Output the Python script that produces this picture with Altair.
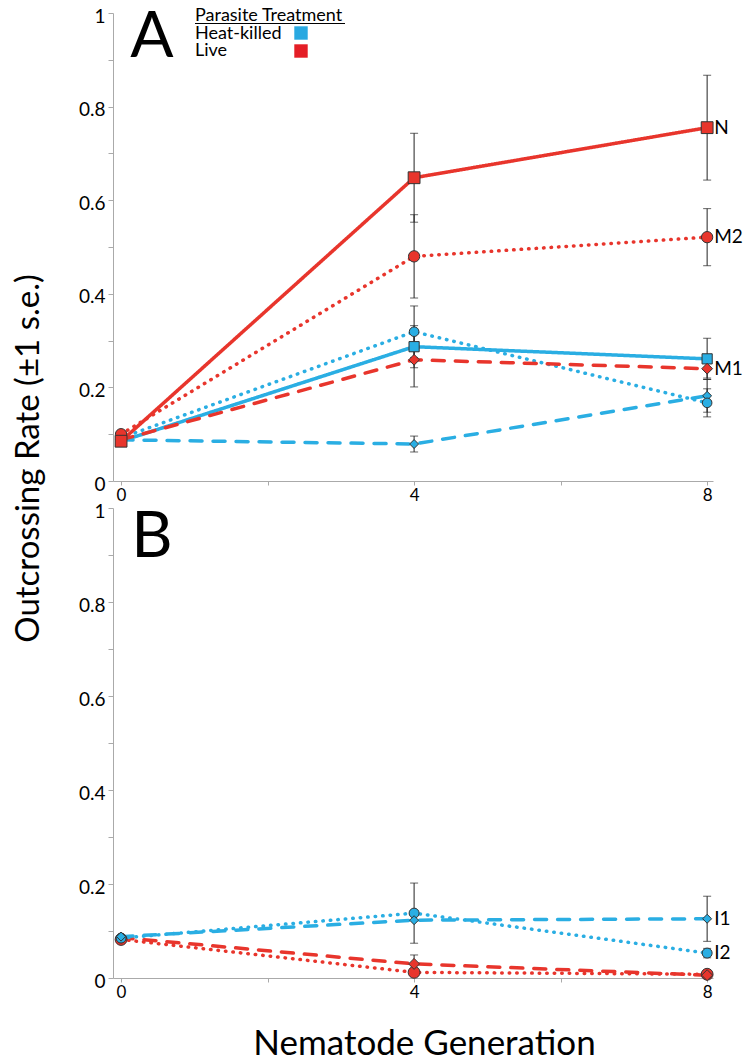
import altair as alt
import pandas as pd

FONT = "Lato"
RED = "#E8352C"
BLUE = "#2AAEE3"

GEN = [0, 4, 8]

# ---- Panel A (rate, +-1 s.e.) ----
A_live_solid = [0.085, 0.648, 0.755]
A_live_solid_se = [0.0, 0.095, 0.112]
A_live_dotted = [0.100, 0.480, 0.521]
A_live_dotted_se = [0.0, 0.089, 0.061]
A_live_dashed = [0.088, 0.259, 0.240]
A_live_dashed_se = [0.0, 0.058, 0.020]
A_hk_solid = [0.085, 0.287, 0.261]
A_hk_solid_se = [0.0, 0.045, 0.044]
A_hk_dotted = [0.092, 0.319, 0.167]
A_hk_dotted_se = [0.0, 0.055, 0.030]
A_hk_dashed = [0.088, 0.079, 0.182]
A_hk_dashed_se = [0.0, 0.017, 0.035]

# ---- Panel B ----
B_hk_dashed = [0.088, 0.123, 0.126]
B_hk_dashed_se = [0.0, 0.0, 0.048]
B_hk_dotted = [0.085, 0.138, 0.053]
B_hk_dotted_se = [0.0, 0.064, 0.010]
B_live_dashed = [0.086, 0.030, 0.006]
B_live_dashed_se = [0.0, 0.019, 0.005]
B_live_dotted = [0.082, 0.012, 0.008]
B_live_dotted_se = [0.0, 0.008, 0.005]

SERIES = {
    "A": [
        ("A_hk_dashed", A_hk_dashed, A_hk_dashed_se),
        ("A_hk_dotted", A_hk_dotted, A_hk_dotted_se),
        ("A_hk_solid", A_hk_solid, A_hk_solid_se),
        ("A_live_dashed", A_live_dashed, A_live_dashed_se),
        ("A_live_dotted", A_live_dotted, A_live_dotted_se),
        ("A_live_solid", A_live_solid, A_live_solid_se),
    ],
    "B": [
        ("B_live_dotted", B_live_dotted, B_live_dotted_se),
        ("B_live_dashed", B_live_dashed, B_live_dashed_se),
        ("B_hk_dotted", B_hk_dotted, B_hk_dotted_se),
        ("B_hk_dashed", B_hk_dashed, B_hk_dashed_se),
    ],
}

END_LABELS = {
    "A": [("A_live_solid", "N"), ("A_live_dotted", "M2"), ("A_live_dashed", "M1")],
    "B": [("B_hk_dashed", "I1"), ("B_hk_dotted", "I2")],
}


def style(name):
    color = RED if "live" in name else BLUE
    if name.endswith("solid"):
        dash, shape, size = [1, 0], "square", 150
    elif name.endswith("dotted"):
        dash, shape, size = [0.5, 7], "circle", 140
    else:
        dash, shape, size = [12, 11], "diamond", 80
    return color, dash, shape, size


def build_df(panel):
    rows = []
    for name, vals, ses in SERIES[panel]:
        for g, v, s in zip(GEN, vals, ses):
            rows.append({"series": name, "gen": g, "rate": v, "se": s,
                         "lo": v - s, "hi": v + s})
    return pd.DataFrame(rows)


def make_panel(panel, letter, letter_y, show_ytitle, show_xtitle):
    df = build_df(panel)
    names = [s[0] for s in SERIES[panel]]
    sty = [style(n) for n in names]
    cscale = alt.Scale(domain=names, range=[s[0] for s in sty])
    dscale = alt.Scale(domain=names, range=[s[1] for s in sty])
    shscale = alt.Scale(domain=names, range=[s[2] for s in sty])
    szscale = alt.Scale(domain=names, range=[s[3] for s in sty])

    xscale = alt.Scale(domain=[-0.11, 8.08], nice=False, zero=False)
    yscale = alt.Scale(domain=[0, 1], nice=False)

    xaxis_kw = dict(
        values=[0, 2, 4, 6, 8],
        format="d",
        labelExpr="datum.value % 4 == 0 ? datum.label : ''",
        tickSize=4, tickColor="#aaaaaa", domainColor="#aaaaaa",
        labelFontSize=17, labelFont=FONT, labelColor="black",
        labelPadding=2, grid=False,
    )
    if show_xtitle:
        xaxis = alt.Axis(title="Nematode Generation", titleFontSize=35,
                         titleFont=FONT, titleFontWeight="normal",
                         titleColor="black", titleX=311, titleY=76,
                         titleBaseline="alphabetic", **xaxis_kw)
    else:
        xaxis = alt.Axis(title=None, **xaxis_kw)

    yaxis_kw = dict(
        values=[i / 10 for i in range(11)],
        format=".1~f",
        labelExpr="(round(datum.value * 10) % 2 == 0) ? datum.label : ''",
        tickSize=5, tickColor="#aaaaaa", domainColor="#aaaaaa",
        labelFontSize=19, labelFont=FONT, labelColor="black",
        labelPadding=3, labelOffset=3, grid=False,
    )
    if show_ytitle:
        yaxis = alt.Axis(title="Outcrossing Rate (±1 s.e.)", titleFontSize=33,
                         titleFont=FONT, titleFontWeight="normal",
                         titleColor="black", titleX=-85, titleY=445,
                         titleAngle=270, titleBaseline="middle",
                         titleAlign="center", **yaxis_kw)
    else:
        yaxis = alt.Axis(title=None, **yaxis_kw)

    base = alt.Chart(df).encode(
        x=alt.X("gen:Q", scale=xscale, axis=xaxis),
        y=alt.Y("rate:Q", scale=yscale, axis=yaxis),
    )

    lines = base.mark_line(strokeWidth=3.5, strokeCap="round").encode(
        color=alt.Color("series:N", scale=cscale, legend=None),
        strokeDash=alt.StrokeDash("series:N", scale=dscale, legend=None),
        detail="series:N",
    )

    edf = df[df["se"] > 0]
    err = alt.Chart(edf).mark_rule(color="#222222", strokeWidth=1).encode(
        x=alt.X("gen:Q", scale=xscale), y=alt.Y("lo:Q", scale=yscale), y2="hi:Q"
    )
    cap_lo = alt.Chart(edf).mark_tick(color="#222222", thickness=1, size=8,
                                      orient="horizontal").encode(
        x=alt.X("gen:Q", scale=xscale), y=alt.Y("lo:Q", scale=yscale)
    )
    cap_hi = alt.Chart(edf).mark_tick(color="#222222", thickness=1, size=8,
                                      orient="horizontal").encode(
        x=alt.X("gen:Q", scale=xscale), y=alt.Y("hi:Q", scale=yscale)
    )

    points = base.mark_point(filled=True, stroke="#333333", strokeWidth=1,
                             opacity=1).encode(
        fill=alt.Fill("series:N", scale=cscale, legend=None),
        shape=alt.Shape("series:N", scale=shscale, legend=None),
        size=alt.Size("series:N", scale=szscale, legend=None),
    )

    lab_rows = []
    lookup = dict((s[0], s[1]) for s in SERIES[panel])
    for name, txt in END_LABELS[panel]:
        lab_rows.append({"gen": GEN[-1], "rate": lookup[name][-1], "txt": txt})
    labels = alt.Chart(pd.DataFrame(lab_rows)).mark_text(
        align="left", baseline="middle", dx=7, fontSize=19, font=FONT,
        color="black"
    ).encode(x=alt.X("gen:Q", scale=xscale), y=alt.Y("rate:Q", scale=yscale),
             text="txt:N")

    letter_mark = alt.Chart(pd.DataFrame({"t": [letter]})).mark_text(
        align="center", baseline="alphabetic", fontSize=64, font=FONT,
        color="black"
    ).encode(x=alt.value(39), y=alt.value(letter_y), text="t:N")

    return [lines, err, cap_lo, cap_hi, points, labels, letter_mark]


layersA = make_panel("A", "A", 44, True, False)

LEG_FS = 18
leg_title = alt.Chart(pd.DataFrame({"t": ["Parasite Treatment"]})).mark_text(
    align="left", baseline="alphabetic", fontSize=LEG_FS, font=FONT, color="black"
).encode(x=alt.value(82), y=alt.value(8), text="t:N")
leg_ul = alt.Chart(pd.DataFrame({"t": [0]})).mark_rule(
    color="black", strokeWidth=1
).encode(x=alt.value(82), x2=alt.value(232), y=alt.value(10.5))
leg_hk = alt.Chart(pd.DataFrame({"t": ["Heat-killed"]})).mark_text(
    align="left", baseline="alphabetic", fontSize=LEG_FS, font=FONT, color="black"
).encode(x=alt.value(82), y=alt.value(26), text="t:N")
leg_live = alt.Chart(pd.DataFrame({"t": ["Live"]})).mark_text(
    align="left", baseline="alphabetic", fontSize=LEG_FS, font=FONT, color="black"
).encode(x=alt.value(82), y=alt.value(43), text="t:N")
sq_hk = alt.Chart(pd.DataFrame({"t": [0]})).mark_square(
    size=180, color="#29A9E1", opacity=1
).encode(x=alt.value(188), y=alt.value(20))
sq_live = alt.Chart(pd.DataFrame({"t": [0]})).mark_square(
    size=180, color="#E41E26", opacity=1
).encode(x=alt.value(188), y=alt.value(38))

chartA = alt.layer(*layersA, leg_title, leg_ul, leg_hk, leg_live, sq_hk,
                   sq_live).properties(width=600, height=468)

chartB = alt.layer(*make_panel("B", "B", 49, False, True)).properties(
    width=600, height=470)

chart = alt.vconcat(chartA, chartB, spacing=27, bounds="flush").resolve_scale(
    color="independent", fill="independent", strokeDash="independent",
    shape="independent", size="independent"
).properties(
    autosize=alt.AutoSizeParams(type="none"),
    padding={"left": 105, "top": 5, "right": 31, "bottom": 1044},
).configure(font=FONT).configure_view(stroke=None)

chart.save("out.html", embed_options={"renderer": "svg", "actions": False})
